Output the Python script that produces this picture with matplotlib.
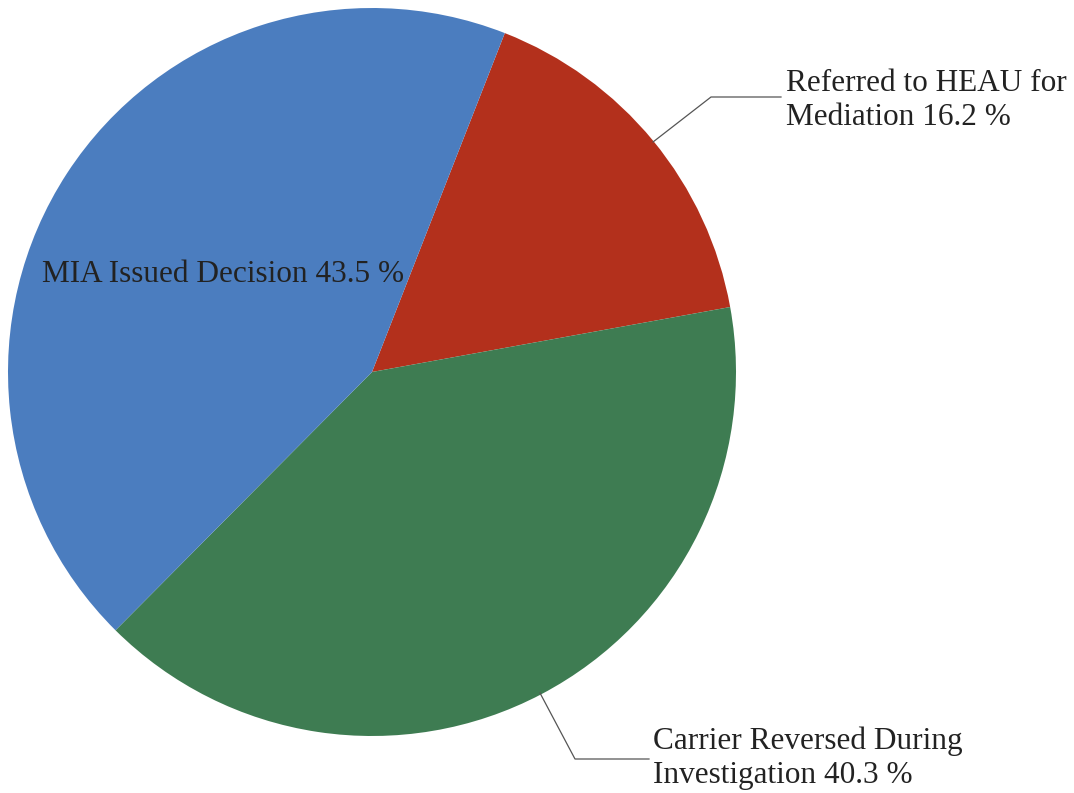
import numpy as np
import matplotlib.pyplot as plt

# Datos del grafico
categorias = ['Referred to HEAU for\nMediation', 'Carrier Reversed During\nInvestigation', 'MIA Issued Decision']
porcentajes = [16.2, 40.3, 43.5]
colores = ['#b3301c', '#3e7c52', '#4b7dbf']

# Tamaño de la ventana del grafico
largo, alto, DPI = 1074, 793, 100

fig = plt.figure(facecolor='white', figsize=(largo/DPI, alto/DPI))
ax = fig.add_axes([0, 0, 1, 1])

# centro y radio en pixeles (y medido desde abajo)
cx, cy, r = 372, alto - 372, 364

wedges, _ = ax.pie(porcentajes, colors=colores, startangle=68.6, counterclock=False,
                   center=(cx, cy), radius=r, wedgeprops=dict(linewidth=0))
ax.set_xlim(0, largo)
ax.set_ylim(0, alto)
ax.set_aspect('equal')
ax.axis('off')

fuente = dict(family='Liberation Serif', size=22.5, color='#222222')

# Etiqueta dentro del sector azul
ax.text(42, alto - 282, f'{categorias[2]} {porcentajes[2]} %', ha='left', va='baseline', **fuente)

# Etiquetas externas con lineas guia (va='baseline' usa la ultima linea)
ax.plot([653, 711, 781], [alto - 142, alto - 97, alto - 97], color='#555555', lw=0.9)
ax.text(786, alto - 125, f'{categorias[0]} {porcentajes[0]} %', ha='left', va='baseline',
        linespacing=1.22, **fuente)

ax.plot([540, 575, 649], [alto - 693, alto - 759, alto - 759], color='#555555', lw=0.9)
ax.text(653, alto - 783, f'{categorias[1]} {porcentajes[1]} %', ha='left', va='baseline',
        linespacing=1.22, **fuente)

plt.savefig('out.png', dpi=DPI, facecolor='white')
